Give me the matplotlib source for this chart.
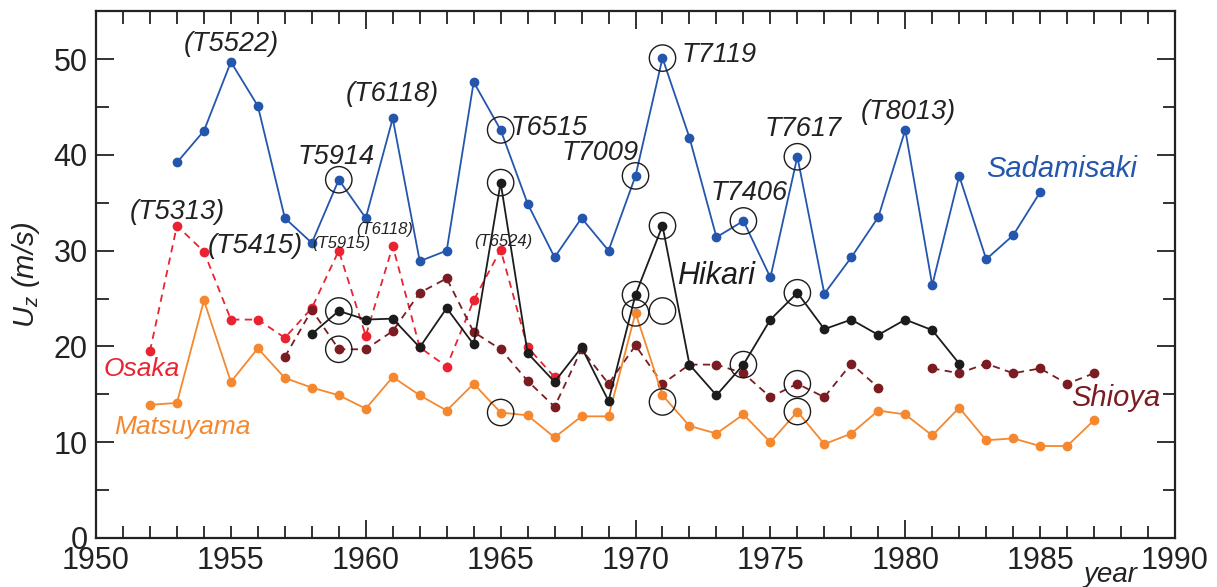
import numpy as np
import matplotlib
matplotlib.use("Agg")
import matplotlib.pyplot as plt
from matplotlib.ticker import MultipleLocator, FuncFormatter, NullFormatter

plt.rcParams['font.family'] = ['Liberation Sans', 'DejaVu Sans']
plt.rcParams['mathtext.fontset'] = 'custom'
plt.rcParams['mathtext.it'] = 'Liberation Sans:italic'
plt.rcParams['mathtext.rm'] = 'Liberation Sans'

# Maximum wind speed per year at each station
sada_years = list(range(1953, 1986))
sadamisaki = [39.2, 42.5, 49.7, 45.1, 33.4, 30.8, 37.4, 33.4, 43.8, 28.9, 30.0, 47.6,
              42.6, 34.9, 29.3, 33.4, 30.0, 37.8, 50.1, 41.8, 31.4, 33.1, 27.2, 39.8,
              25.5, 29.3, 33.5, 42.6, 26.4, 37.8, 29.1, 31.6, 36.1]

osaka_years = list(range(1952, 1968))
osaka = [19.5, 32.6, 29.9, 22.8, 22.8, 20.9, 24.0, 30.0, 21.1, 30.5, 19.9, 17.9,
         24.8, 30.1, 19.9, 16.8]

matsu_years = list(range(1952, 1988))
matsuyama = [13.9, 14.1, 24.8, 16.3, 19.8, 16.7, 15.7, 14.9, 13.5, 16.8, 14.9, 13.3,
             16.1, 13.1, 12.8, 10.5, 12.7, 12.7, 23.5, 14.9, 11.7, 10.9, 12.9, 10.0,
             13.2, 9.8, 10.9, 13.3, 12.9, 10.7, 13.6, 10.2, 10.4, 9.6, 9.6, 12.3]

hikari_years = list(range(1958, 1983))
hikari = [21.3, 23.7, 22.8, 22.9, 19.9, 24.0, 20.2, 37.1, 19.3, 16.3, 19.9, 14.3,
          25.4, 32.6, 18.1, 14.9, 18.1, 22.8, 25.6, 21.8, 22.8, 21.2, 22.8, 21.7, 18.2]

shioya_years = list(range(1957, 1988))
shioya = [18.9, 23.8, 19.7, 19.7, 21.6, 25.6, 27.1, 21.5, 19.7, 16.4, 13.7, 19.7,
          16.1, 20.1, 16.1, 18.1, 18.1, 17.2, 14.7, 16.1, 14.7, 18.2, 15.7, np.nan,
          17.7, 17.2, 18.2, 17.2, 17.7, 16.1, 17.2]

# highlighted (circled) typhoon events
circ_years = [1959, 1965, 1970, 1971, 1974, 1976,
              1959, 1959, 1965, 1970, 1970, 1971, 1971, 1971, 1965, 1974, 1976, 1976, 1976]
circ_vals = [37.4, 42.6, 37.8, 50.1, 33.1, 39.8,
             23.7, 19.7, 37.1, 25.4, 23.5, 23.7, 32.6, 14.2, 13.1, 18.1, 25.6, 16.1, 13.2]

c_blue = "#2356ac"
c_red = "#ea2330"
c_orange = "#f5882f"
c_dred = "#7a1c22"
c_black = "#1c1c1c"
c_text = "#222222"

fig = plt.figure(figsize=(12.17, 5.87), dpi=100)
ax = fig.add_axes([0.0789, 0.0835, 0.8866, 0.8975])

ms = 6
lw = 1.3
ax.plot(sada_years, sadamisaki, '-o', color=c_blue, lw=lw, ms=ms)
ax.plot(osaka_years, osaka, '--o', color=c_red, lw=lw, ms=ms, dashes=(4, 3))
ax.plot(shioya_years, shioya, '--o', color=c_dred, lw=lw, ms=ms, dashes=(4, 3))
ax.plot(matsu_years, matsuyama, '-o', color=c_orange, lw=lw, ms=ms)
ax.plot(hikari_years, hikari, '-o', color=c_black, lw=lw, ms=ms)
ax.scatter(circ_years, circ_vals, s=360, facecolors='none', edgecolors=c_black,
           linewidths=1.0, zorder=5)

big = dict(fontsize=19.5, style='italic', color=c_text, ha='center', va='center')
small = dict(fontsize=12, style='italic', color=c_text, ha='center', va='center')
ax.text(1955.0, 51.6, "(T5522)", **big)
ax.text(1961.0, 46.3, "(T6118)", **big)
ax.text(1958.9, 39.8, "T5914", **big)
ax.text(1953.0, 34.0, "(T5313)", **big)
ax.text(1955.9, 30.5, "(T5415)", **big)
ax.text(1959.1, 30.7, "(T5915)", **small)
ax.text(1960.7, 32.2, "(T6118)", **small)
ax.text(1965.1, 31.0, "(T6524)", **small)
ax.text(1966.8, 42.8, "T6515", **big)
ax.text(1968.7, 40.2, "T7009", **big)
ax.text(1973.1, 50.4, "T7119", **big)
ax.text(1976.2, 42.7, "T7617", **big)
ax.text(1974.2, 36.0, "T7406", **big)
ax.text(1980.1, 44.5, "(T8013)", **big)

lab = dict(style='italic', ha='center', va='center')
ax.text(1985.8, 38.5, "Sadamisaki", color=c_blue, fontsize=21, **lab)
ax.text(1973.0, 27.3, "Hikari", color=c_black, fontsize=22, **lab)
ax.text(1951.7, 17.6, "Osaka", color=c_red, fontsize=19, **lab)
ax.text(1953.2, 11.6, "Matsuyama", color=c_orange, fontsize=19, **lab)
ax.text(1987.8, 14.6, "Shioya", color=c_dred, fontsize=21, **lab)

ax.set_xlim(1950, 1990)
ax.set_ylim(0, 55)

ax.xaxis.set_major_locator(MultipleLocator(10))
ax.xaxis.set_minor_locator(MultipleLocator(1))
ax.xaxis.set_minor_formatter(FuncFormatter(lambda v, p: f"{int(round(v))}" if round(v) % 5 == 0 else ""))
ax.yaxis.set_major_locator(MultipleLocator(10))
ax.yaxis.set_minor_locator(MultipleLocator(5))
ax.yaxis.set_minor_formatter(NullFormatter())

ax.tick_params(axis='both', which='both', direction='in', top=True, right=True,
               labelsize=22, width=1.3, colors=c_text)
ax.tick_params(axis='both', which='major', length=13, pad=6)
ax.tick_params(axis='both', which='minor', length=9, pad=6)

for sp in ax.spines.values():
    sp.set_linewidth(1.6)
    sp.set_color(c_text)

ax.set_ylabel(r"$U_z$ (m/s)", fontsize=21, style='italic', color=c_text, labelpad=8)
ax.set_xlabel("year", fontsize=20, style='italic', color=c_text)
ax.xaxis.set_label_coords(0.94, -0.045)

plt.savefig("out.png", dpi=100)
